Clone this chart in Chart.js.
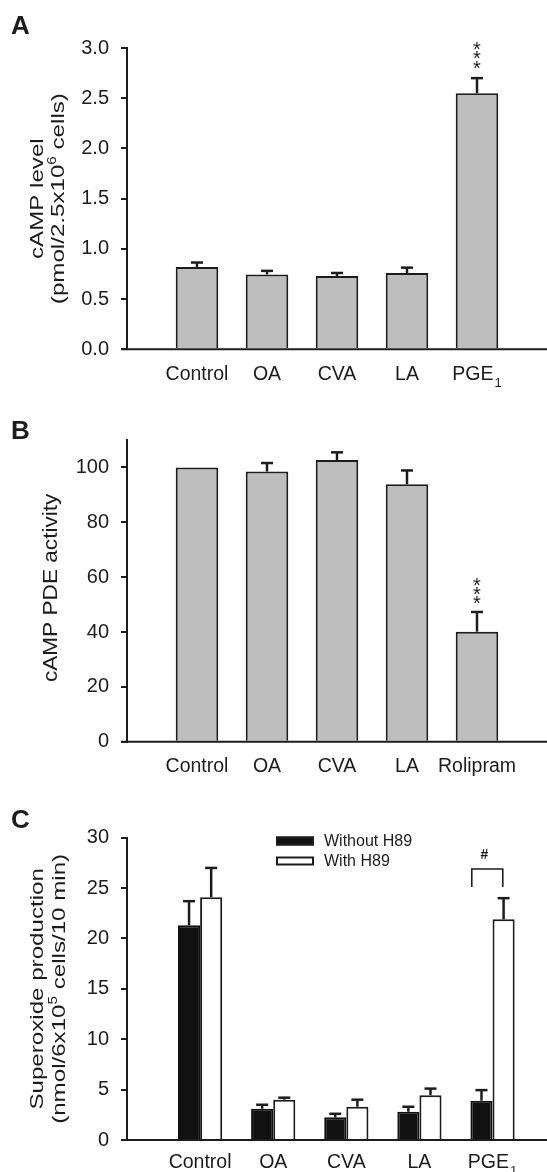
<!DOCTYPE html>
<html>
<head>
<meta charset="utf-8">
<script src="https://cdn.jsdelivr.net/npm/chart.js@4.4.1/dist/chart.umd.min.js"></script>
<style>
  body { margin: 0; background: #fff; }
  .panel { position: absolute; left: 0; width: 547px; }
</style>
</head>
<body>
<div class="panel" style="top:0;height:390px"><canvas id="chartA" width="547" height="390"></canvas></div>
<div class="panel" style="top:390px;height:390px"><canvas id="chartB" width="547" height="390"></canvas></div>
<div class="panel" style="top:780px;height:392px"><canvas id="chartC" width="547" height="392"></canvas></div>
<script>
// ---- data ----
// A: cAMP level
var groupsA = ['Control', 'OA', 'CVA', 'LA', 'PGE_1'];
var meanA = [0.82, 0.745, 0.73, 0.76, 2.55];
var semA = [0.044, 0.036, 0.03, 0.053, 0.15];
var ticksA = [0, 0.5, 1.0, 1.5, 2.0, 2.5, 3.0];

// B: cAMP PDE activity
var groupsB = ['Control', 'OA', 'CVA', 'LA', 'Rolipram'];
var meanB = [100, 98.5, 102.7, 93.9, 40.1];
var semB = [0, 3.1, 2.8, 5.0, 7.2];
var ticksB = [0, 20, 40, 60, 80, 100];

// C: superoxide production
var groupsC = ['Control', 'OA', 'CVA', 'LA', 'PGE_1'];
var withoutH89 = [21.3, 3.1, 2.25, 2.8, 3.9];
var withoutH89Sem = [2.4, 0.4, 0.35, 0.5, 1.05];
var withH89 = [24.1, 4.0, 3.3, 4.45, 21.9];
var withH89Sem = [2.9, 0.2, 0.7, 0.65, 2.1];
var ticksC = [0, 5, 10, 15, 20, 25, 30];

var INK = '#1c1c1c';
var FONT = "'Liberation Sans', Arial, Helvetica, sans-serif";
Chart.defaults.font.family = FONT;
Chart.defaults.color = INK;

function pts(vals) {
  return vals.map(function (v, i) { return { x: i + 1, y: v }; });
}

// rotated axis title, parts may carry a superscript
function rotText(ctx, parts, bx, cy, size, stretch) {
  ctx.save();
  ctx.translate(bx, cy);
  ctx.rotate(-Math.PI / 2);
  ctx.scale(stretch, 1);
  ctx.textAlign = 'left';
  ctx.textBaseline = 'alphabetic';
  var w = 0;
  parts.forEach(function (p) {
    ctx.font = (p.sup ? 12 : size) + 'px ' + FONT;
    p.w = ctx.measureText(p.t).width;
    w += p.w;
  });
  var x = -w / 2;
  parts.forEach(function (p) {
    ctx.font = (p.sup ? 12 : size) + 'px ' + FONT;
    ctx.fillText(p.t, x, p.sup ? -8 : 0);
    x += p.w;
  });
  ctx.restore();
}

var extras = {
  id: 'extras',
  afterDatasetsDraw: function (chart, args, o) {
    var ctx = chart.ctx, a = chart.chartArea;
    var xs = chart.scales.x, ys = chart.scales.y;
    ctx.save();
    ctx.strokeStyle = INK;
    ctx.fillStyle = INK;
    // error bars (upper only)
    o.errors.forEach(function (sem, di) {
      var meta = chart.getDatasetMeta(di);
      var vals = chart.data.datasets[di].data;
      meta.data.forEach(function (bar, i) {
        if (!sem[i]) return;
        var yTop = ys.getPixelForValue(vals[i].y + sem[i]);
        ctx.lineWidth = 2.5;
        ctx.beginPath();
        ctx.moveTo(bar.x, bar.y);
        ctx.lineTo(bar.x, yTop);
        ctx.stroke();
        ctx.beginPath();
        ctx.moveTo(bar.x - 6, yTop);
        ctx.lineTo(bar.x + 6, yTop);
        ctx.stroke();
      });
    });
    // x axis line
    ctx.lineWidth = 2;
    ctx.beginPath();
    ctx.moveTo(a.left - 6, a.bottom);
    ctx.lineTo(chart.width, a.bottom);
    ctx.stroke();
    // significance stars
    if (o.stars) {
      ctx.font = '20px ' + FONT;
      ctx.textAlign = 'center';
      ctx.textBaseline = 'alphabetic';
      var m = ctx.measureText('*');
      var off = (m.actualBoundingBoxAscent - m.actualBoundingBoxDescent) / 2;
      var sx = xs.getPixelForValue(o.stars.x), sy = ys.getPixelForValue(o.stars.y);
      for (var k = -1; k <= 1; k++) ctx.fillText('*', sx, sy + k * 9.3 + off);
    }
    // bracket with #
    if (o.bracket) {
      var b = o.bracket;
      var x1 = xs.getPixelForValue(b.x1), x2 = xs.getPixelForValue(b.x2);
      var yb = ys.getPixelForValue(b.y1), yt = ys.getPixelForValue(b.y2);
      ctx.lineWidth = 1.6;
      ctx.beginPath();
      ctx.moveTo(x1, yb); ctx.lineTo(x1, yt); ctx.lineTo(x2, yt); ctx.lineTo(x2, yb);
      ctx.stroke();
      ctx.font = 'bold 14px ' + FONT;
      ctx.textAlign = 'center';
      ctx.textBaseline = 'middle';
      ctx.fillText('#', xs.getPixelForValue(b.tx), ys.getPixelForValue(b.ty));
    }
    ctx.restore();
  },
  afterDraw: function (chart, args, o) {
    var ctx = chart.ctx, xs = chart.scales.x, a = chart.chartArea;
    ctx.save();
    ctx.fillStyle = INK;
    // category labels (with subscript)
    ctx.textBaseline = 'alphabetic';
    ctx.textAlign = 'left';
    o.labels.forEach(function (lab, i) {
      var parts = lab.split('_');
      ctx.font = '19.5px ' + FONT;
      var w1 = ctx.measureText(parts[0]).width;
      var w2 = 0;
      if (parts[1]) { ctx.font = '13px ' + FONT; w2 = ctx.measureText(parts[1]).width + 1; }
      var x = xs.getPixelForValue(i + 1) - (w1 + w2) / 2;
      ctx.font = '19.5px ' + FONT;
      ctx.fillText(parts[0], x, o.labelY);
      if (parts[1]) { ctx.font = '13px ' + FONT; ctx.fillText(parts[1], x + w1 + 1, o.labelY + 7); }
    });
    // y titles
    var cy = (a.top + a.bottom) / 2;
    o.titles.forEach(function (t) { rotText(ctx, t.parts, t.x, cy + (t.dy || 0), t.size, t.stretch); });
    // panel letter
    ctx.font = 'bold 26px ' + FONT;
    ctx.textAlign = 'left';
    ctx.fillText(o.letter, 11, o.letterY);
    // legend
    if (o.legend) {
      ctx.font = '16px ' + FONT;
      ctx.textBaseline = 'middle';
      o.legend.forEach(function (it) {
        ctx.fillStyle = it.fill;
        ctx.fillRect(276, it.y - 4.5, 38, 9);
        ctx.strokeStyle = INK;
        ctx.lineWidth = 2;
        ctx.strokeRect(277, it.y - 3.5, 36, 7);
        ctx.fillStyle = INK;
        ctx.fillText(it.text, 324, it.y + 1);
      });
    }
    ctx.restore();
  }
};

function makePanel(id, p) {
  var H = document.getElementById(id).height;
  return new Chart(document.getElementById(id), {
    type: 'bar',
    data: { datasets: p.datasets },
    plugins: [extras],
    options: {
      responsive: false,
      animation: false,
      layout: { padding: { top: p.top, left: 0, right: 0, bottom: 0 } },
      plugins: {
        legend: { display: false },
        tooltip: { enabled: false },
        extras: p.extras
      },
      scales: {
        x: {
          type: 'linear',
          min: 0,
          max: p.xMax,
          offset: false,
          grid: { display: false },
          border: { display: false },
          ticks: { display: false },
          // one tick per group so the bar width comes from the group spacing
          afterBuildTicks: function (s) { s.ticks = [1, 2, 3, 4, 5].map(function (v) { return { value: v }; }); },
          afterFit: function (s) { s.height = H - p.bottom; }
        },
        y: {
          min: 0,
          max: p.yMax,
          afterBuildTicks: function (s) { s.ticks = p.ticks.map(function (v) { return { value: v }; }); },
          ticks: {
            padding: 12,
            color: INK,
            font: { size: 20 },
            callback: p.fmt
          },
          grid: { drawOnChartArea: false, drawTicks: true, tickLength: 6, color: INK, lineWidth: 2 },
          border: { display: true, color: INK, width: 2 },
          afterFit: function (s) { s.width = 127; }
        }
      }
    }
  });
}

makePanel('chartA', {
  top: 48, bottom: 349.3, xMax: 6.0, yMax: 3, ticks: ticksA,
  fmt: function (v) { return v.toFixed(1); },
  datasets: [{
    data: pts(meanA), backgroundColor: '#bdbdbd', borderColor: INK, borderWidth: 2,
    categoryPercentage: 1, barPercentage: 0.608
  }],
  extras: {
    errors: [semA],
    stars: { x: 5, y: 2.927 },
    labels: groupsA, labelY: 380,
    letter: 'A', letterY: 33.5,
    titles: [
      { parts: [{ t: 'cAMP level' }], x: 42.5, size: 19, stretch: 1.27 },
      { parts: [{ t: '(pmol/2.5x10' }, { t: '6', sup: true }, { t: ' cells)' }], x: 63.5, size: 19, stretch: 1.27 }
    ]
  }
});

makePanel('chartB', {
  top: 50, bottom: 351.7, xMax: 6.0, yMax: 110, ticks: ticksB,
  fmt: function (v) { return String(v); },
  datasets: [{
    data: pts(meanB), backgroundColor: '#bdbdbd', borderColor: INK, borderWidth: 2,
    categoryPercentage: 1, barPercentage: 0.608
  }],
  extras: {
    errors: [semB],
    stars: { x: 5, y: 55 },
    labels: groupsB, labelY: 381.5,
    letter: 'B', letterY: 49.3,
    titles: [
      { parts: [{ t: 'cAMP PDE activity' }], x: 56.7, dy: -3, size: 19.5, stretch: 1.16 }
    ]
  }
});

makePanel('chartC', {
  top: 57.7, bottom: 360, xMax: 5.745, yMax: 30, ticks: ticksC,
  fmt: function (v) { return String(v); },
  datasets: [{
    label: 'Without H89',
    data: pts(withoutH89), backgroundColor: '#111', borderColor: '#111', borderWidth: 2,
    categoryPercentage: 0.605, barPercentage: 1
  }, {
    label: 'With H89',
    data: pts(withH89), backgroundColor: '#fff', borderColor: INK, borderWidth: 2,
    categoryPercentage: 0.605, barPercentage: 1
  }],
  extras: {
    errors: [withoutH89Sem, withH89Sem],
    bracket: { x1: 4.716, x2: 5.14, y1: 25.1, y2: 26.9, tx: 4.89, ty: 28.3 },
    labels: groupsC, labelY: 387.7,
    letter: 'C', letterY: 48.3,
    titles: [
      { parts: [{ t: 'Superoxide production' }], x: 42.5, size: 19, stretch: 1.27 },
      { parts: [{ t: '(nmol/6x10' }, { t: '5', sup: true }, { t: ' cells/10 min)' }], x: 64.5, size: 19, stretch: 1.27 }
    ],
    legend: [
      { text: 'Without H89', fill: '#111', y: 61 },
      { text: 'With H89', fill: '#fff', y: 81 }
    ]
  }
});
</script>
</body>
</html>
